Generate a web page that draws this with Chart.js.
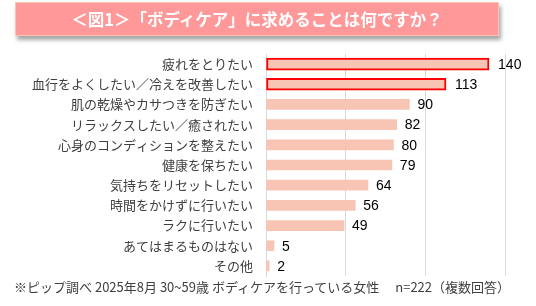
<!DOCTYPE html>
<html>
<head>
<meta charset="utf-8">
<script src="https://cdn.jsdelivr.net/npm/chart.js@4"></script>
<style>
	body{margin:0;background:#fff;}
	#wrap{position:relative;width:536px;height:306px;overflow:hidden;}
	#myChart{position:absolute;left:0;top:0;}
	#title{position:absolute;left:15px;top:2px;width:482px;height:32px;background:#FF9999;border:1px solid #F9C4B2;
		box-shadow:2px 4px 4px rgba(0,0,0,0.35);color:#fff;font:bold 16.5px "Noto Sans CJK JP";text-align:center;line-height:32px;}
	#note{position:absolute;left:14px;top:277px;color:#404040;font:13px "Noto Sans CJK JP";white-space:pre;}
</style>
</head>
<body>
<div id="wrap">
	<canvas id="myChart" width="536" height="306"></canvas>
	<div id="title">＜図1＞「ボディケア」に求めることは何ですか？</div>
	<div id="note">※ピップ調べ 2025年8月 30~59歳 ボディケアを行っている女性　 n=222（複数回答）</div>
</div>
<script>
// 項目
var categories = ['疲れをとりたい','血行をよくしたい／冷えを改善したい','肌の乾燥やカサつきを防ぎたい','リラックスしたい／癒されたい',
	'心身のコンディションを整えたい','健康を保ちたい','気持ちをリセットしたい','時間をかけずに行いたい','ラクに行いたい',
	'あてはまるものはない','その他'];
// 回答数
var counts = [140,113,90,82,80,79,64,56,49,5,2];
// 赤枠で囲む項目
var highlighted = [true,true,false,false,false,false,false,false,false,false,false];
var xTicks = [0,50,100,150];

var barColor = '#F8C4B4';
var lineColor = '#D9D9D9';

// 数値ラベル
var valueLabels = {
	id:'valueLabels',
	afterDatasetsDraw:function(chart){
		var ctx = chart.ctx;
		ctx.save();
		ctx.font = '14px "Liberation Sans"';
		ctx.fillStyle = '#000';
		ctx.textBaseline = 'middle';
		ctx.textAlign = 'left';
		for(var i=0;i<counts.length;i++){
			var x = chart.scales.x.getPixelForValue(counts[i]);
			var y = chart.scales.y.getPixelForValue(i);
			ctx.fillText(String(counts[i]), x + (highlighted[i] ? 9 : 8), y + 1);
		}
		ctx.restore();
	}
};

var ctx = document.getElementById('myChart').getContext('2d');
var myChart = new Chart(ctx,{
	type:'bar',
	data:{
		labels:categories,
		datasets:[
			{
				data:counts.map(function(v,i){return highlighted[i] ? v : null;}),
				backgroundColor:barColor,
				borderColor:'#FF0000',
				borderWidth:2,
				borderSkipped:false,
				barThickness:12
			},
			{
				data:counts.map(function(v,i){return highlighted[i] ? null : v;}),
				backgroundColor:barColor,
				borderWidth:0,
				barThickness:10
			}
		]
	},
	options:{
		indexAxis:'y',
		responsive:false,
		animation:false,
		layout:{padding:{top:54,bottom:30,right:31,left:0}},
		plugins:{legend:{display:false},tooltip:{enabled:false},title:{display:false}},
		datasets:{bar:{grouped:false,skipNull:true}},
		scales:{
			x:{
				min:0,max:150,
				afterBuildTicks:function(s){s.ticks = xTicks.map(function(v){return {value:v};});},
				ticks:{display:false},
				grid:{color:lineColor,lineWidth:1,drawTicks:false},
				border:{display:false}
			},
			y:{
				afterFit:function(s){s.width = 266;},
				grid:{display:false,drawTicks:false},
				border:{display:true,color:lineColor,width:1},
				ticks:{
					padding:13,
					color:'#404040',
					font:{family:'"Noto Sans CJK JP"',size:13}
				}
			}
		}
	},
	plugins:[valueLabels]
});
</script>
</body>
</html>
